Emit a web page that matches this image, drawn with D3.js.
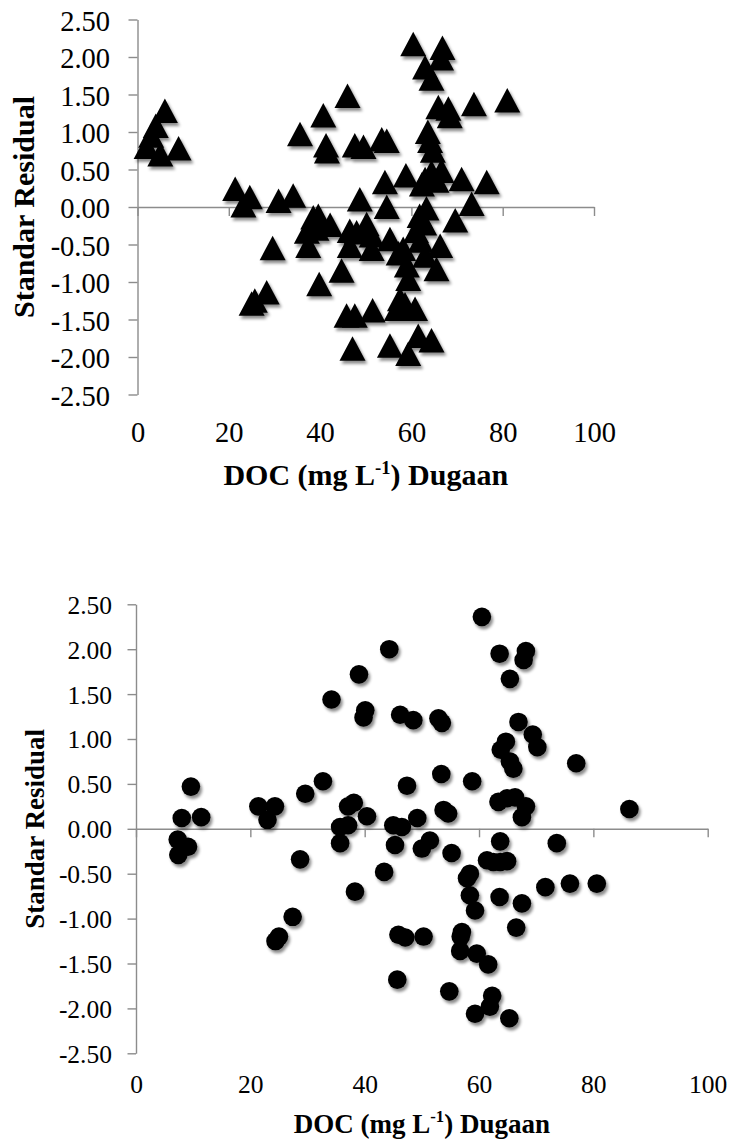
<!DOCTYPE html>
<html><head><meta charset="utf-8">
<script src="https://cdn.jsdelivr.net/npm/d3@7"></script>
<style>html,body{margin:0;padding:0;background:#fff;} svg{display:block;}
svg text{font-family:"Liberation Serif","Times New Roman",Times,"DejaVu Serif",serif !important;}</style>
</head><body><svg id="c" width="729" height="1140"></svg>
<script>
// ---- data ----
const xTicks = [0, 20, 40, 60, 80, 100];
const yTicks = [-2.5, -2, -1.5, -1, -0.5, 0, 0.5, 1, 1.5, 2, 2.5];
const xTitleParts = ["DOC (mg L", "-1", ") Dugaan"];
const yTitle = "Standar Residual";

// Top panel (triangles)
const topDOC = [2,3,4,6,5,9,
  21.4,24.6,23.2,30.9,34.1,
  46,40.7,35.6,41.3,41.5,47.6,49.5,53.5,54.6,
  60.4,66.8,66.5,63,64.4,65.9,68.1,68.4,73.7,81,63.6,64.1,64.7,
  54.2,58.8,63,64.4,66.6,71,76.5,62.3,65.5,
  48.7,54.6,63.3,73.2,69.6,61.8,62.8,
  37.1,38.5,39.6,39.2,37.4,42.2,46.5,48,50.2,51.3,46.5,51.3,44.7,29.6,55.3,58.2,66.3,63,65.5,59,59.3,61,62,57.2,
  39.8,28.3,25.7,25,47.6,45.8,51.5,47.1,57.5,56.8,60.8,58.6,61.5,64.4,55.3,59.3];
const topResidual = [0.80,0.95,1.08,1.28,0.70,0.78,
  0.24,0.13,0.02,0.08,0.15,
  1.48,1.22,0.97,0.82,0.74,0.82,0.80,0.90,0.88,
  2.17,2.12,1.98,1.86,1.71,1.33,1.31,1.21,1.37,1.42,1.00,0.88,0.75,
  0.33,0.42,0.37,0.46,0.48,0.37,0.33,0.30,0.35,
  0.10,0.00,-0.02,0.04,-0.18,-0.12,-0.22,
  -0.33,-0.14,-0.12,-0.29,-0.52,-0.24,-0.32,-0.34,-0.23,-0.38,-0.52,-0.56,-0.85,-0.55,-0.43,-0.56,-0.52,-0.65,-0.83,-0.78,-0.96,-0.32,-0.45,-0.62,
  -1.03,-1.14,-1.25,-1.29,-1.45,-1.45,-1.38,-1.89,-1.23,-1.36,-1.36,-1.30,-1.72,-1.78,-1.85,-1.96];

// Bottom panel (circles)
const bottomDOC = [9.6,8.0,11.4,7.3,9.1,7.4,
  21.4,24.3,23.0,29.6,32.7,34.2,39,40.1,39.8,
  35.7,37.1,37.1,38.1,35.7,40.4,28.7,38.3,27.4,24.4,25,
  60.5,44.3,63.6,68.2,67.8,65.4,46.2,48.5,52.9,53.5,66.9,69.4,70.2,64.7,63.8,65.4,66,77,53.4,47.4,58.8,86.3,
  45,46.5,49.2,53.8,54.6,63.4,64.9,66.3,68.2,67.5,
  45.3,50,51.4,55.2,63.7,73.6,
  43.4,61.4,62.5,63.7,64.9,58.4,57.9,71.6,75.9,80.6,58.4,63.6,67.5,59.3,66.5,
  45.9,47.1,50.3,57,56.8,56.7,59.6,61.6,45.7,54.8,62.3,61.9,59.3,65.3];
const bottomResidual = [0.47,0.12,0.13,-0.12,-0.20,-0.29,
  0.25,0.25,0.10,0.39,0.53,1.44,1.72,1.32,1.24,
  0.02,0.04,0.25,0.29,-0.16,0.14,-0.34,-0.70,-0.98,-1.25,-1.20,
  2.36,2.00,1.95,1.98,1.88,1.67,1.27,1.21,1.23,1.18,1.19,1.05,0.91,0.97,0.88,0.75,0.67,0.73,0.61,0.48,0.53,0.22,
  0.04,0.02,0.12,0.21,0.17,0.30,0.34,0.35,0.25,0.13,
  -0.18,-0.22,-0.13,-0.27,-0.14,-0.16,
  -0.48,-0.35,-0.37,-0.37,-0.36,-0.50,-0.55,-0.65,-0.61,-0.61,-0.74,-0.76,-0.83,-0.91,-1.10,
  -1.18,-1.21,-1.20,-1.15,-1.20,-1.36,-1.39,-1.51,-1.68,-1.81,-1.86,-1.98,-2.06,-2.11];

// ---- drawing ----
const svg = d3.select("#c");
svg.append("rect").attr("width",729).attr("height",1140).attr("fill","#fff");
const defs = svg.append("defs");
const f = defs.append("filter").attr("id","sh").attr("x","-50%").attr("y","-50%").attr("width","200%").attr("height","200%");
f.append("feDropShadow").attr("dx",2).attr("dy",3).attr("stdDeviation",1.8)
  .attr("flood-color","#000").attr("flood-opacity",0.45);

const FONT = "Liberation Serif, Times New Roman, DejaVu Serif, serif";
const AX = "#8c8c8c";

function panel(cfg) {
  const x = d3.scaleLinear().domain([0,100]).range([cfg.x0, cfg.x1]);
  const y = d3.scaleLinear().domain([-2.5,2.5]).range([cfg.yBot, cfg.yTop]);
  const g = svg.append("g").style("font-family", FONT);

  // y axis
  const ya = g.append("g").attr("transform",`translate(${cfg.x0},0)`)
    .call(d3.axisLeft(y).tickValues(yTicks).tickSizeOuter(0).tickSizeInner(cfg.tick)
      .tickFormat(d => d.toFixed(2)));
  ya.attr("font-family", null);
  ya.select(".domain").attr("stroke",AX).attr("stroke-width",1.4);
  ya.selectAll(".tick line").attr("stroke",AX).attr("stroke-width",1.4);
  ya.selectAll(".tick text").style("font-family",FONT).attr("font-size",cfg.tickFont)
    .attr("fill","#000").attr("x",-(cfg.x0-cfg.yLabRight)).attr("dy",cfg.yDy);

  // x axis at zero line
  const xa = g.append("g").attr("transform",`translate(0,${y(0)})`)
    .call(d3.axisBottom(x).tickValues(xTicks).tickSizeOuter(0).tickSizeInner(cfg.tick)
      .tickFormat(d3.format("d")));
  xa.attr("font-family", null);
  xa.select(".domain").attr("stroke",AX).attr("stroke-width",1.4);
  xa.selectAll(".tick line").attr("stroke",AX).attr("stroke-width",1.4);
  xa.selectAll(".tick text").style("font-family",FONT).attr("font-size",cfg.tickFont)
    .attr("fill","#000").attr("y", cfg.xLabBase - y(0)).attr("dy",0);

  // titles
  const xt = g.append("text").attr("x",(cfg.x0+cfg.x1)/2).attr("y",cfg.xTitleBase)
    .attr("text-anchor","middle").style("font-family",FONT).attr("font-weight","bold")
    .attr("font-size",cfg.titleFont).attr("fill","#000");
  xt.append("tspan").text(xTitleParts[0]);
  xt.append("tspan").text(xTitleParts[1]).attr("font-size",cfg.titleFont*0.62).attr("dy",-cfg.titleFont*0.38);
  xt.append("tspan").text(xTitleParts[2]).attr("dy",cfg.titleFont*0.38);

  g.append("text").attr("transform",`translate(${cfg.yTitleX},${(cfg.yTop+cfg.yBot)/2}) rotate(-90)`)
    .attr("text-anchor","middle").attr("dy","0.35em").style("font-family",FONT).attr("font-weight","bold")
    .attr("font-size",cfg.titleFont).attr("fill","#000").text(yTitle);

  const data = cfg.xs.map((v,i)=>({v, r: cfg.ys[i]}));
  const pts = g.append("g").attr("filter","url(#sh)");
  if (cfg.shape === "tri") {
    pts.selectAll("path").data(data).join("path")
      .attr("d","M0,-12.5L13,12L-13,12Z")
      .attr("transform", d => `translate(${x(d.v)},${y(d.r)})`)
      .attr("fill","#000");
  } else {
    pts.selectAll("circle").data(data).join("circle")
      .attr("cx", d => x(d.v)).attr("cy", d => y(d.r)).attr("r",9.3)
      .attr("fill","#000");
  }
}

panel({x0:137.5, x1:594, yTop:19.5, yBot:394.5, tick:9, tickFont:28.5, titleFont:30,
  yLabRight:110, yDy:"0.37em", xLabBase:441.5, xTitleBase:485, yTitleX:23,
  xs: topDOC, ys: topResidual, shape:"tri"});

panel({x0:136, x1:707.7, yTop:604.3, yBot:1053.3, tick:8.5, tickFont:25.5, titleFont:27,
  yLabRight:112, yDy:"0.35em", xLabBase:1093, xTitleBase:1132.5, yTitleX:35,
  xs: bottomDOC, ys: bottomResidual, shape:"circle"});
</script>
</body></html>
